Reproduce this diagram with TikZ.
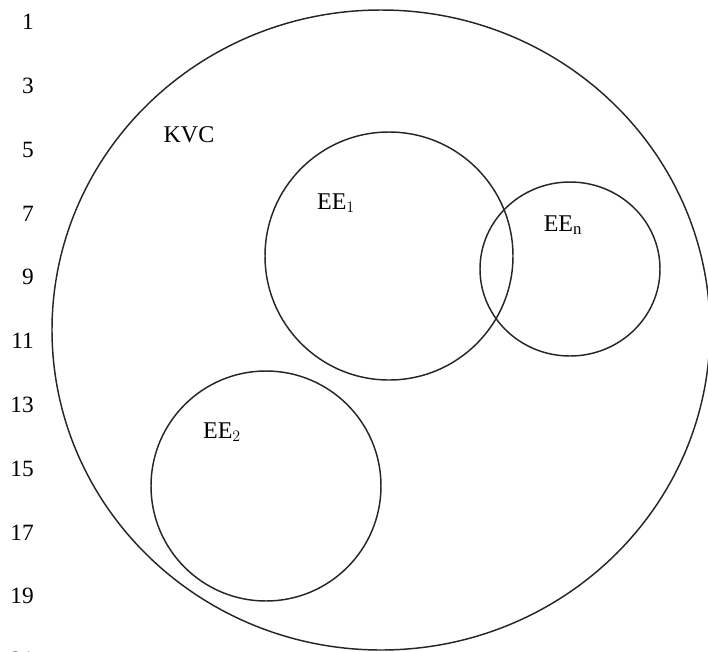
\documentclass[tikz,border=0pt]{standalone}
\usepackage{fontspec}
\setmainfont{Liberation Serif}
\usetikzlibrary{positioning}
\tikzset{
  ring/.style={draw=black!85, line width=1.1pt},
  setlbl/.style={font=\fontsize{18}{21}\selectfont, inner sep=0pt},
  linenum/.style={font=\fontsize{17.5}{21}\selectfont, anchor=east, inner sep=0pt},
}

\begin{document}
\begin{tikzpicture}[x=0.75pt,y=-0.75pt]
\useasboundingbox (0,0) rectangle (708,651);
% line numbers down the left margin
\foreach \n [count=\i from 0] in {1,3,...,21}
  \node[linenum] (num\n) at (34,22+63.8*\i) {\n};
% sets
\draw[ring] (381,330) ellipse [x radius=329, y radius=320];
\draw[ring] (389,256) circle [radius=124];
\draw[ring] (570,269) ellipse [x radius=90, y radius=87];
\draw[ring] (266,486) circle [radius=115];
% set labels
\node[setlbl] (kvc) at (189,135) {KVC};
\node[setlbl] (ee1) at (336,203) {EE$_1$};
\node[setlbl] (een) at (563,225) {EE$_\mathrm{n}$};
\node[setlbl] (ee2) at (222,432) {EE$_2$};
\end{tikzpicture}
\end{document}
